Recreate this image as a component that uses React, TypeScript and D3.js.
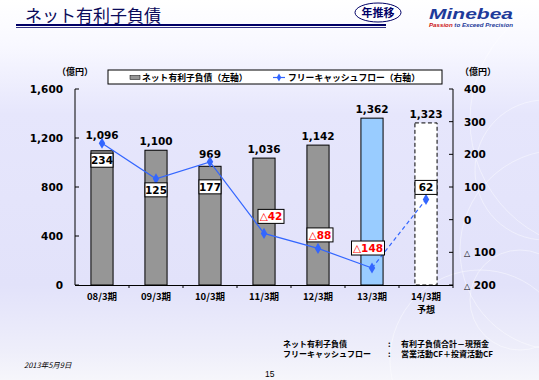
import React from "react";
import * as d3 from "d3";

const categories = ["08/3期", "09/3期", "10/3期", "11/3期", "12/3期", "13/3期", "14/3期"];
const netDebt = [1096, 1100, 969, 1036, 1142, 1362, 1323];
const freeCashFlow = [234, 125, 177, -42, -88, -148, 62];
const leftTicks = [0, 400, 800, 1200, 1600];
const rightTicks = [-200, -100, 0, 100, 200, 300, 400];

// styles / label offsets (not data)
const barFills = ["#969696", "#969696", "#969696", "#969696", "#969696", "#99ccff", "#ffffff"];
const barDashed = [false, false, false, false, false, false, true];
const valueLabelLift = [12, 5, 8, 5, 5, 5, 5];
const fcfLabelOffset: [number, number][] = [
  [0, 17], [0, 11], [0, 25], [7, -17], [2, -13.5], [-4, -20], [0, -12],
];

const CJK = "'Noto Sans CJK JP', sans-serif";
const NUM = "'DejaVu Sans', Verdana, sans-serif";

const fmt = d3.format(",");
const fcfText = (v: number) => (v < 0 ? "△" + Math.abs(v) : String(v));

export default function App() {
  const W = 539, H = 380;
  const x0 = 75, x1 = 453, yTop = 89, yBot = 285;
  const x = d3.scaleBand<string>().domain(categories).range([x0, x1]).paddingInner(0.59).paddingOuter(0.295);
  const xb = d3.scaleBand<string>().domain(categories).range([x0, x1]);
  const yL = d3.scaleLinear().domain([0, 1600]).range([yBot, yTop]);
  const yR = d3.scaleLinear().domain([-200, 400]).range([yBot, yTop]);
  const cx = (c: string) => (xb(c) as number) + xb.bandwidth() / 2;

  const pts = freeCashFlow.map((v, i) => [cx(categories[i]), yR(v)] as [number, number]);
  const line = d3.line();
  const solidPath = line(pts.slice(0, 6)) as string;
  const dashPath = line(pts.slice(5)) as string;
  const diamond = d3.symbol().type(d3.symbolDiamond).size(36)() as string;

  return (
    <svg width={W} height={H} style={{ position: "absolute", left: 0, top: 0 }}>
      <defs>
        <linearGradient id="bg" x1="0" y1="0" x2="0" y2="1">
          <stop offset="0" stopColor="#ffffff" />
          <stop offset="0.12" stopColor="#f8f8ff" />
          <stop offset="0.3" stopColor="#e6e6fc" />
          <stop offset="0.75" stopColor="#e2e2fa" />
          <stop offset="0.92" stopColor="#eeeefa" />
          <stop offset="1" stopColor="#f6f6fb" />
        </linearGradient>
      </defs>
      <rect width={W} height={H} fill="url(#bg)" />
      {/* decorative circles */}
      <g fill="none" stroke="#ffffff" strokeOpacity={0.55} strokeWidth={0.8}>
        <circle cx={545} cy={170} r={70} />
        <circle cx={520} cy={300} r={50} />
        <circle cx={560} cy={250} r={100} />
        <circle cx={600} cy={120} r={130} />
        <circle cx={480} cy={360} r={90} />
      </g>

      {/* title */}
      <text x={25} y={22} fontFamily={CJK} fontSize={17} fill="#0a0a5a">ネット有利子負債</text>
      <rect x={16} y={24} width={370} height={2} fill="#000066" />
      <rect x={16} y={27} width={370} height={0.8} fill="#000066" />
      <ellipse cx={378} cy={12.5} rx={23} ry={9.5} fill="#ffffff" stroke="#000066" strokeWidth={1} />
      <text x={378} y={16.5} textAnchor="middle" fontFamily={CJK} fontWeight="bold" fontSize={11} fill="#000066">年推移</text>
      <text x={429} y={19} fontFamily="'Liberation Sans', Arial, sans-serif" fontWeight="bold" fontStyle="italic" fontSize={15} fill="#1d3a9a" textLength={84} lengthAdjust="spacingAndGlyphs">Minebea</text>
      <text x={429} y={26.5} fontFamily="'Liberation Sans', Arial, sans-serif" fontWeight="bold" fontStyle="italic" fontSize={5.5} textLength={84} lengthAdjust="spacingAndGlyphs">
        <tspan fill="#cc1111">Passion</tspan><tspan fill="#1d3a9a"> to Exceed Precision</tspan>
      </text>

      {/* units */}
      <text x={57} y={75} fontFamily={CJK} fontWeight="bold" fontSize={9}>（億円）</text>
      <text x={460} y={75} fontFamily={CJK} fontWeight="bold" fontSize={9}>（億円）</text>

      {/* legend */}
      <rect x={108} y={70} width={334} height={14} fill="#ffffff" stroke="#000" strokeWidth={1} />
      <rect x={130} y={75.5} width={10} height={4} fill="#969696" stroke="#000" strokeWidth={0.5} />
      <text x={142} y={80.5} fontFamily={CJK} fontWeight="bold" fontSize={8.8}>ネット有利子負債（左軸）</text>
      <line x1={273} x2={285} y1={77.5} y2={77.5} stroke="#3366ff" strokeWidth={1.2} />
      <path d={diamond} transform="translate(279,77.5) scale(0.7)" fill="#3366ff" />
      <text x={288} y={80.5} fontFamily={CJK} fontWeight="bold" fontSize={8.8}>フリーキャッシュフロー（右軸）</text>

      {/* bars */}
      {categories.map((c, i) => (
        <rect key={c} x={x(c)} y={yL(netDebt[i])} width={x.bandwidth()} height={yBot - yL(netDebt[i])}
          fill={barFills[i]} stroke="#000" strokeWidth={1} strokeDasharray={barDashed[i] ? "4,2.5" : undefined} />
      ))}
      {categories.map((c, i) => (
        <text key={c} x={cx(c)} y={yL(netDebt[i]) - valueLabelLift[i]} textAnchor="middle"
          fontFamily={NUM} fontWeight="bold" fontSize={10.5}>{fmt(netDebt[i])}</text>
      ))}

      {/* axes */}
      <line x1={x0} x2={x0} y1={yTop} y2={yBot} stroke="#000" />
      <line x1={x1} x2={x1} y1={yTop} y2={yBot} stroke="#000" />
      <line x1={x0} x2={x1} y1={yBot + 0.5} y2={yBot + 0.5} stroke="#000" />
      {leftTicks.map((t) => (
        <g key={t}>
          <line x1={x0} x2={x0 + 4} y1={yL(t)} y2={yL(t)} stroke="#000" />
          <text x={63} y={yL(t) + 4} textAnchor="end" fontFamily={NUM} fontWeight="bold" fontSize={10.5}>{fmt(t)}</text>
        </g>
      ))}
      {rightTicks.map((t) => (
        <g key={t}>
          <line x1={x1 - 4} x2={x1} y1={yR(t)} y2={yR(t)} stroke="#000" />
          <text x={464} y={yR(t) + 4} fontFamily={NUM} fontWeight="bold" fontSize={10.5}>
            {t < 0 ? <><tspan fontSize={8}>△</tspan><tspan> {Math.abs(t)}</tspan></> : String(t)}
          </text>
        </g>
      ))}
      {categories.map((c) => (
        <line key={c} x1={(xb(c) as number) + xb.bandwidth()} x2={(xb(c) as number) + xb.bandwidth()}
          y1={yBot} y2={yBot + 3} stroke="#000" />
      ))}
      {categories.map((c) => (
        <text key={c} x={cx(c)} y={300} textAnchor="middle" fontFamily={CJK} fontWeight="bold" fontSize={9.5}>{c}</text>
      ))}
      <text x={cx(categories[6])} y={313} textAnchor="middle" fontFamily={CJK} fontWeight="bold" fontSize={9}>予想</text>

      {/* FCF line */}
      <path d={solidPath} fill="none" stroke="#3366ff" strokeWidth={1.2} />
      <path d={dashPath} fill="none" stroke="#3366ff" strokeWidth={1.2} strokeDasharray="4,3" />
      {pts.map((p, i) => (
        <path key={i} d={diamond} transform={`translate(${p[0]},${p[1]})`} fill="#3366ff" />
      ))}
      {pts.map((p, i) => {
        const v = freeCashFlow[i];
        const txt = fcfText(v);
        const w = v < 0 ? (txt.length === 3 ? 26 : 33) : 22;
        const bx = p[0] + fcfLabelOffset[i][0];
        const by = p[1] + fcfLabelOffset[i][1];
        return (
          <g key={"l" + i}>
            <rect x={bx - w / 2} y={by - 7} width={w} height={14} fill="#fff" stroke="#000" strokeWidth={1} />
            <text x={bx} y={by + 4} textAnchor="middle" fontFamily={NUM} fontWeight="bold" fontSize={10.5}
              fill={v < 0 ? "#ff0000" : "#000"}>{txt}</text>
          </g>
        );
      })}

      {/* footer */}
      <g fontFamily={CJK} fontWeight="bold" fontSize={8}>
        <text x={283} y={347}>ネット有利子負債</text>
        <text x={388} y={347}>:</text>
        <text x={401} y={347}>有利子負債合計－現預金</text>
        <text x={283} y={357}>フリーキャッシュフロー</text>
        <text x={388} y={357}>:</text>
        <text x={401} y={357}>営業活動CF＋投資活動CF</text>
      </g>
      <text x={24} y={368} fontFamily={CJK} fontStyle="italic" fontSize={7.5}>2013年5月9日</text>
      <text x={265} y={377} fontFamily="'Liberation Sans', Arial, sans-serif" fontSize={8.5}>15</text>
    </svg>
  );
}
